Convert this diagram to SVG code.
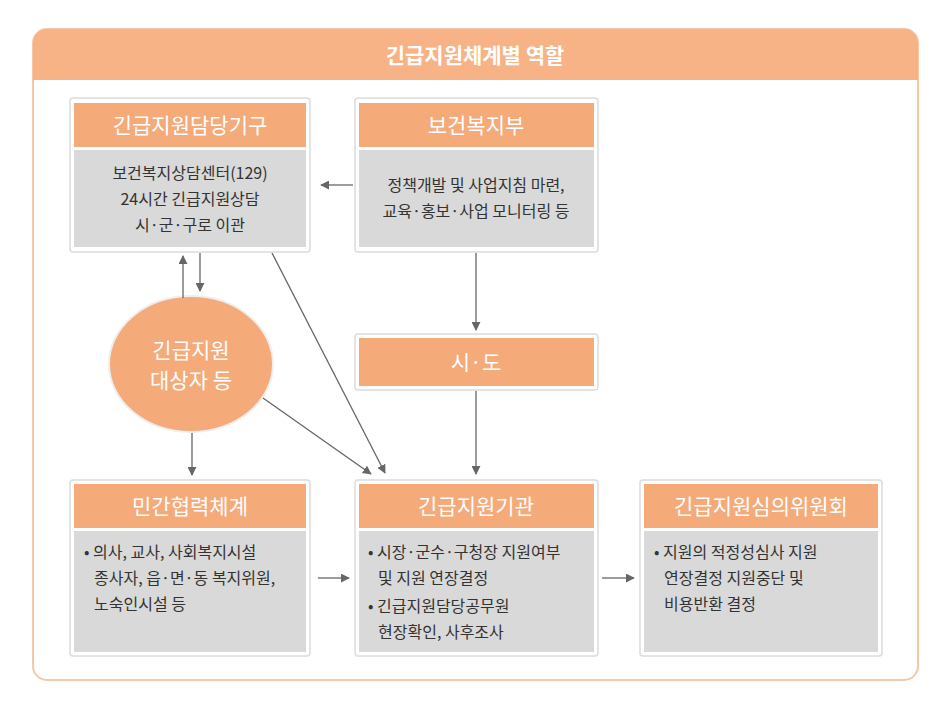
<svg xmlns="http://www.w3.org/2000/svg" width="949" height="708" viewBox="0 0 949 708">
<style>
.hd{fill:#f5aa7a}
.bd{fill:#d9d9d9}
.fr{fill:#fff;stroke:#dcdcdc;stroke-width:1.5}
.ht{font-family:"Noto Sans CJK KR",sans-serif;font-size:21px;fill:#fff;text-anchor:middle}
.bt{font-family:"Noto Sans CJK KR",sans-serif;font-size:16px;fill:#333}
.c{text-anchor:middle}
.ln{stroke:#666;stroke-width:1.3;fill:none;marker-end:url(#a)}
</style>
<defs><marker id="a" viewBox="0 0 10 10" refX="9" refY="5" markerWidth="9" markerHeight="9" orient="auto" markerUnits="userSpaceOnUse"><path d="M0,0L10,5L0,10z" fill="#666"/></marker></defs>
<rect width="949" height="708" fill="#fff"/>
<g id="frame">
<rect x="33" y="29" width="885" height="651" rx="14" fill="#fff" stroke="#f7c8a8" stroke-width="2"/>
<path d="M33,80V43a14,14 0 0 1 14,-14H904a14,14 0 0 1 14,14V80z" fill="#f7b286"/>
<text class="ht" x="475" y="63" style="font-weight:bold">긴급지원체계별 역할</text>
</g>
<g id="n1">
<rect class="fr" x="70" y="98" width="240" height="154" rx="3"/>
<rect class="hd" x="74" y="103" width="232" height="44"/>
<rect class="bd" x="74" y="150" width="232" height="97"/>
<text class="ht" x="190" y="133">긴급지원담당기구</text>
<text class="bt c" x="190" y="179">보건복지상담센터(129)</text>
<text class="bt c" x="190" y="205">24시간 긴급지원상담</text>
<text class="bt c" x="190" y="231">시·군·구로 이관</text>
</g>
<g id="n2">
<rect class="fr" x="355" y="98" width="243" height="154" rx="3"/>
<rect class="hd" x="359" y="103" width="235" height="44"/>
<rect class="bd" x="359" y="150" width="235" height="97"/>
<text class="ht" x="476" y="133">보건복지부</text>
<text class="bt c" x="476" y="191">정책개발 및 사업지침 마련,</text>
<text class="bt c" x="476" y="217">교육·홍보·사업 모니터링 등</text>
</g>
<g id="n3">
<rect class="fr" x="355" y="334" width="243" height="56" rx="3"/>
<rect class="hd" x="359" y="338" width="235" height="48"/>
<text class="ht" x="476" y="370">시·도</text>
</g>
<g id="n4">
<ellipse cx="191" cy="364" rx="82" ry="68" fill="#f5aa7a" stroke="#eee" stroke-width="2"/>
<text class="ht" x="191" y="358">긴급지원</text>
<text class="ht" x="191" y="388">대상자 등</text>
</g>
<g id="n5">
<rect class="fr" x="70" y="480" width="240" height="176" rx="3"/>
<rect class="hd" x="74" y="484" width="232" height="44"/>
<rect class="bd" x="74" y="531" width="232" height="121"/>
<text class="ht" x="190" y="514">민간협력체계</text>
<text class="bt" x="84" y="558">• 의사, 교사, 사회복지시설</text>
<text class="bt" x="94" y="584">종사자, 읍·면·동 복지위원,</text>
<text class="bt" x="94" y="610">노숙인시설 등</text>
</g>
<g id="n6">
<rect class="fr" x="355" y="480" width="243" height="176" rx="3"/>
<rect class="hd" x="359" y="484" width="235" height="44"/>
<rect class="bd" x="359" y="531" width="235" height="121"/>
<text class="ht" x="476" y="514">긴급지원기관</text>
<text class="bt" x="368" y="558">• 시장·군수·구청장 지원여부</text>
<text class="bt" x="378" y="584">및 지원 연장결정</text>
<text class="bt" x="368" y="612">• 긴급지원담당공무원</text>
<text class="bt" x="378" y="638">현장확인, 사후조사</text>
</g>
<g id="n7">
<rect class="fr" x="640" y="480" width="242" height="176" rx="3"/>
<rect class="hd" x="644" y="484" width="234" height="44"/>
<rect class="bd" x="644" y="531" width="234" height="121"/>
<text class="ht" x="761" y="514">긴급지원심의위원회</text>
<text class="bt" x="654" y="558">• 지원의 적정성심사 지원</text>
<text class="bt" x="664" y="584">연장결정 지원중단 및</text>
<text class="bt" x="664" y="610">비용반환 결정</text>
</g>
<g id="connectors">
<path class="ln" d="M353,185H321"/>
<path class="ln" d="M183,298V256"/>
<path class="ln" d="M200,253V291"/>
<path class="ln" d="M476,253V330"/>
<path class="ln" d="M476,391V474"/>
<path class="ln" d="M272,253L385,473"/>
<path class="ln" d="M263,398L371,474"/>
<path class="ln" d="M192,433V475"/>
<path class="ln" d="M318,578H349"/>
<path class="ln" d="M602,578H634"/>
</g>
</svg>
